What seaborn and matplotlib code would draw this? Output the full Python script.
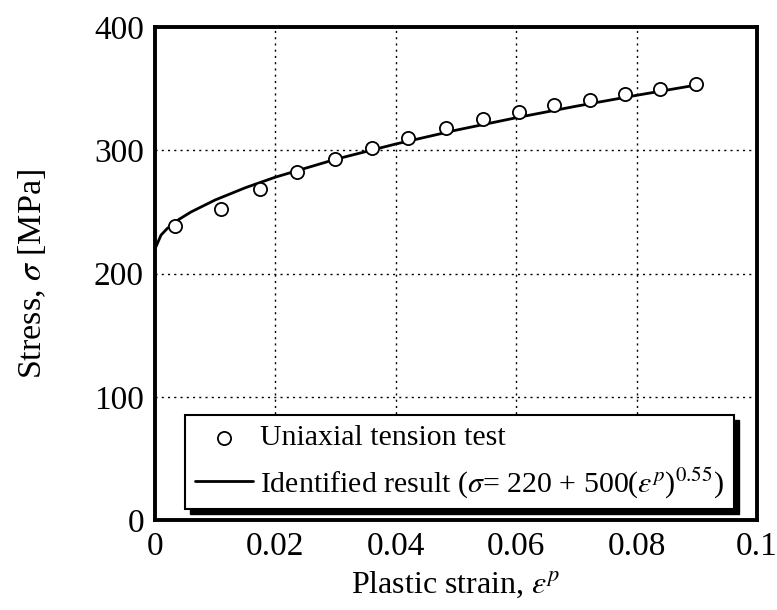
import matplotlib
matplotlib.use("Agg")
import matplotlib.pyplot as plt
import matplotlib.patches as mpatches
import seaborn as sns
import pandas as pd

# Data
test_strain = [0.0033, 0.011, 0.0175, 0.0236, 0.0299, 0.036, 0.0421, 0.0483,
               0.0545, 0.0605, 0.0663, 0.0723, 0.0781, 0.0839, 0.0899]
test_stress = [238.6, 252.4, 268.3, 282.4, 292.6, 302.1, 310.2, 318.3,
               325.4, 331.0, 336.7, 340.8, 345.6, 349.7, 353.8]

fit_strain = [0.0, 0.0005, 0.001, 0.002, 0.004, 0.006, 0.01, 0.015, 0.02,
              0.03, 0.04, 0.05, 0.06, 0.07, 0.08, 0.09]
fit_stress = [220.0, 225.6, 231.2, 236.4, 244.0, 250.0, 259.7, 269.6, 278.2,
              292.7, 305.1, 316.3, 326.4, 335.8, 344.6, 353.0]

x_ticks = [0, 0.02, 0.04, 0.06, 0.08, 0.1]
x_tick_labels = ["0", "0.02", "0.04", "0.06", "0.08", "0.1"]
y_ticks = [0, 100, 200, 300, 400]

sns.set_theme(style="white")
plt.rcParams["font.family"] = ["Liberation Serif", "DejaVu Serif"]
plt.rcParams["mathtext.fontset"] = "stix"
plt.rcParams["text.color"] = "black"
plt.rcParams["axes.labelcolor"] = "black"

df_test = pd.DataFrame({"strain": test_strain, "stress": test_stress})
df_fit = pd.DataFrame({"strain": fit_strain, "stress": fit_stress})

fig = plt.figure(figsize=(7.77, 6.10), dpi=100)
ax = fig.add_axes([0.1995, 0.1475, 0.7748, 0.8082])

sns.lineplot(data=df_fit, x="strain", y="stress", ax=ax, color="black",
             linewidth=2.0,
             label=r"Identified result ($\sigma$= 220 + 500($\varepsilon^p$)$^{0.55}$)",
             zorder=3)
sns.scatterplot(data=df_test, x="strain", y="stress", ax=ax, marker="o",
                s=90, facecolor="white", edgecolor="black", linewidth=1.3,
                label="Uniaxial tension test", zorder=4)

ax.set_xlim(0, 0.1)
ax.set_ylim(0, 400)
ax.set_xticks(x_ticks)
ax.set_xticklabels(x_tick_labels)
ax.set_yticks(y_ticks)
ax.grid(True, color="black", linestyle=(0, (1.5, 3)), linewidth=1.0)
ax.tick_params(axis="both", which="major", labelsize=24, direction="in",
               length=7, width=1.0, color="black", labelcolor="black", pad=8)
for s in ax.spines.values():
    s.set_visible(True)
    s.set_linewidth(2.8)
    s.set_color("black")

ax.set_xlabel(r"Plastic strain, $\varepsilon^p$", fontsize=23, color="black", labelpad=6)
ax.set_ylabel(r"Stress, $\sigma$ [MPa]", fontsize=24.5, color="black", labelpad=33)

handles, labels = ax.get_legend_handles_labels()
i_test = labels.index("Uniaxial tension test")
order = [i_test, 1 - i_test]
leg = ax.legend([handles[i] for i in order], [labels[i] for i in order],
                loc="lower left", bbox_to_anchor=(0.05, 0.022),
                fontsize=21.5, frameon=True, fancybox=False,
                edgecolor="black", framealpha=1, shadow=False,
                handlelength=1.95, handletextpad=0.25, borderpad=0.32,
                borderaxespad=0, labelspacing=0.45, markerscale=1.0)
leg.get_frame().set_linewidth(1.5)
leg.set_zorder(10)
for t in leg.get_texts():
    t.set_color("black")

# thick drop shadow like the reference legend box
fig.canvas.draw()
bb = leg.get_window_extent()
shadow = mpatches.Rectangle((bb.x0 + 5, bb.y0 - 5), bb.width, bb.height,
                            transform=None, facecolor="black",
                            edgecolor="black", zorder=9)
ax.add_artist(shadow)

fig.savefig("out.png", dpi=100)
